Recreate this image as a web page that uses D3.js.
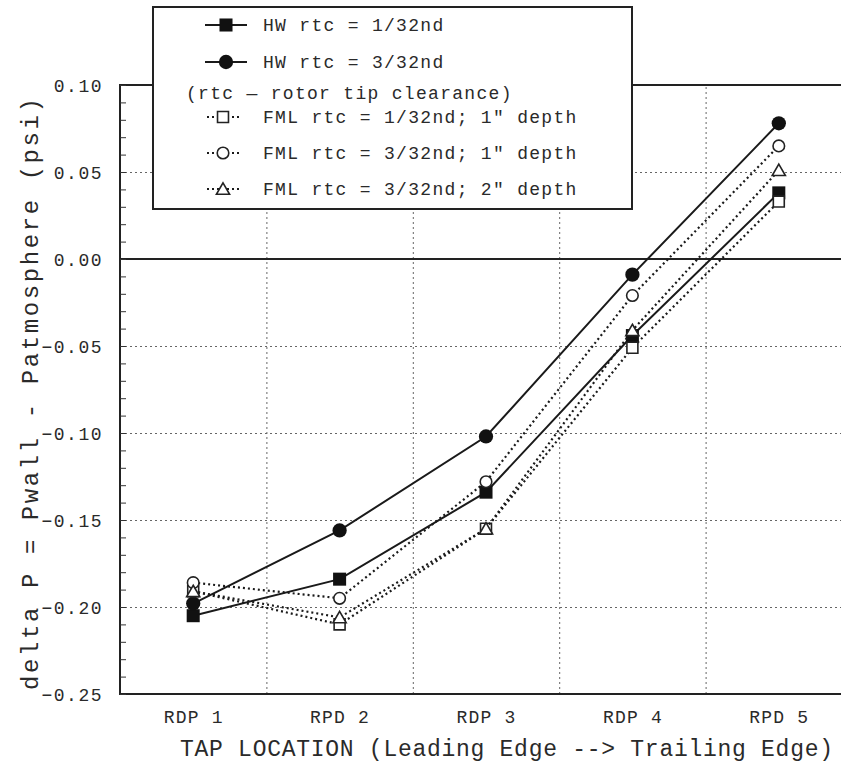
<!DOCTYPE html>
<html>
<head>
<meta charset="utf-8">
<script src="https://cdnjs.cloudflare.com/ajax/libs/d3/7.8.5/d3.min.js"></script>
<style>
  body { margin: 0; background: #fff; }
  svg { display: block; }
  text { font-family: "Liberation Mono", "Courier New", monospace; fill: #2a2a2a; }
  .grid line { stroke: #666; stroke-width: 1; stroke-dasharray: 2,3; }
  .grid path { display: none; }
</style>
</head>
<body>
<svg width="841" height="763"></svg>
<script>
var locations = ["RDP 1", "RPD 2", "RDP 3", "RDP 4", "RPD 5"];

var hw1 = [-0.205, -0.184, -0.134, -0.044, 0.038];
var hw3 = [-0.198, -0.156, -0.102, -0.009, 0.078];
var fml1 = [-0.191, -0.210, -0.155, -0.051, 0.033];
var fml3 = [-0.186, -0.195, -0.128, -0.021, 0.065];
var fml3d2 = [-0.191, -0.206, -0.155, -0.041, 0.051];

var yTicks = [-0.25, -0.20, -0.15, -0.10, -0.05, 0.00, 0.05, 0.10];

var series = [
    {name: "HW rtc = 1/32nd", values: hw1, symbol: "square", filled: true, dotted: false},
    {name: "HW rtc = 3/32nd", values: hw3, symbol: "circle", filled: true, dotted: false},
    {name: "FML rtc = 1/32nd; 1\" depth", values: fml1, symbol: "square", filled: false, dotted: true},
    {name: "FML rtc = 3/32nd; 1\" depth", values: fml3, symbol: "circle", filled: false, dotted: true},
    {name: "FML rtc = 3/32nd; 2\" depth", values: fml3d2, symbol: "triangle", filled: false, dotted: true}
];

var svg = d3.select("svg"),
    plotL = 120, plotR = 852, plotT = 85, plotB = 694;

var x = d3.scaleLinear().domain([0.5, 5.5]).range([plotL, plotR]),
    y = d3.scaleLinear().domain([-0.25, 0.10]).range([plotB, plotT]);

var line = d3.line()
    .x(function(d, i) { return x(i + 1); })
    .y(function(d) { return y(d); });

// gridlines
svg.append("g")
    .attr("class", "grid")
    .attr("transform", "translate(0," + plotB + ")")
    .call(d3.axisBottom(x).tickValues([1.5, 2.5, 3.5, 4.5]).tickSize(-(plotB - plotT)).tickFormat(""));

svg.append("g")
    .attr("class", "grid")
    .attr("transform", "translate(" + plotL + ",0)")
    .call(d3.axisLeft(y).tickValues([-0.20, -0.15, -0.10, -0.05, 0.05]).tickSize(-(plotR - plotL)).tickFormat(""));

// frame + zero line
svg.append("path")
    .attr("d", "M" + plotR + "," + plotT + "H" + plotL + "V" + plotB + "H" + plotR)
    .attr("fill", "none")
    .attr("stroke", "#222")
    .attr("stroke-width", 2);

svg.append("line")
    .attr("x1", plotL).attr("x2", plotR)
    .attr("y1", y(0)).attr("y2", y(0))
    .attr("stroke", "#222")
    .attr("stroke-width", 2);

// minor ticks on the left axis (inside)
var minor = d3.range(-25, 11).map(function(d) { return d / 100; });
svg.append("g")
    .attr("transform", "translate(" + plotL + ",0)")
    .call(d3.axisRight(y).tickValues(minor).tickSize(6).tickFormat(""))
    .call(function(g) { g.select(".domain").remove(); })
    .selectAll(".tick line")
    .attr("stroke", "#333");

// y tick labels
var yAxis = svg.append("g")
    .attr("transform", "translate(" + plotL + ",0)")
    .call(d3.axisLeft(y).tickValues(yTicks).tickSize(0).tickPadding(17).tickFormat(d3.format(".2f")));
yAxis.select(".domain").remove();
yAxis.selectAll("text")
    .style("font-size", "18px")
    .style("letter-spacing", "1.5px")
    .attr("dy", "0.35em");

// x tick labels
var xAxis = svg.append("g")
    .attr("transform", "translate(0," + plotB + ")")
    .call(d3.axisBottom(x).tickValues([1, 2, 3, 4, 5]).tickSize(0).tickPadding(16)
        .tickFormat(function(d) { return locations[d - 1]; }));
xAxis.select(".domain").remove();
xAxis.selectAll("text")
    .style("font-size", "18px")
    .style("letter-spacing", "1.2px");

// axis titles
svg.append("text")
    .attr("x", 180)
    .attr("y", 756)
    .attr("textLength", 653)
    .attr("lengthAdjust", "spacing")
    .style("font-size", "23px")
    .text("TAP LOCATION (Leading Edge --> Trailing Edge)");

svg.append("text")
    .attr("transform", "translate(38,690) rotate(-90)")
    .attr("textLength", 592)
    .attr("lengthAdjust", "spacing")
    .style("font-size", "24px")
    .text("delta P = Pwall - Patmosphere  (psi)");

// symbols
function symbolPath(s, size) {
    var type = s.symbol == "square" ? d3.symbolSquare : (s.symbol == "circle" ? d3.symbolCircle : d3.symbolTriangle);
    return d3.symbol().type(type).size(size)();
}
function symbolSize(s) {
    if (s.filled) return s.symbol == "square" ? 170 : 160;
    return s.symbol == "triangle" ? 75 : (s.symbol == "square" ? 120 : 105);
}

var person = svg.selectAll(".series")
    .data(series)
    .enter().append("g")
    .attr("class", "series");

person.append("path")
    .attr("d", function(d) { return line(d.values); })
    .attr("fill", "none")
    .attr("stroke", "#1a1a1a")
    .attr("stroke-width", function(d) { return d.dotted ? 2.2 : 2; })
    .attr("stroke-dasharray", function(d) { return d.dotted ? "2,3" : null; });

person.selectAll(".pt")
    .data(function(d) { return d.values.map(function(v, i) { return {s: d, v: v, i: i}; }); })
    .enter().append("path")
    .attr("class", "pt")
    .attr("transform", function(d) {
        var dy = d.s.symbol == "triangle" ? 1.5 : 0;
        return "translate(" + x(d.i + 1) + "," + (y(d.v) + dy) + ")";
    })
    .attr("d", function(d) { return symbolPath(d.s, symbolSize(d.s)); })
    .attr("fill", function(d) { return d.s.filled ? "#111" : "#fff"; })
    .attr("stroke", "#222")
    .attr("stroke-width", function(d) { return d.s.filled ? 0 : 1.6; });

// legend
var legend = svg.append("g");
legend.append("rect")
    .attr("x", 153).attr("y", 7)
    .attr("width", 479).attr("height", 202)
    .attr("fill", "#fff")
    .attr("stroke", "#222")
    .attr("stroke-width", 2);

var rowY = [25, 62, 117, 153, 189];
series.forEach(function(s, i) {
    var ly = rowY[i];
    legend.append("line")
        .attr("x1", s.dotted ? 207 : 205).attr("x2", s.dotted ? 240 : 247)
        .attr("y1", ly).attr("y2", ly)
        .attr("stroke", "#1a1a1a")
        .attr("stroke-width", 2)
        .attr("stroke-dasharray", s.dotted ? "2,3" : null);
    legend.append("path")
        .attr("transform", "translate(" + (s.dotted ? 223 : 226) + "," + (ly + (s.symbol == "triangle" ? 1.5 : 0)) + ")")
        .attr("d", symbolPath(s, symbolSize(s)))
        .attr("fill", s.filled ? "#111" : "#fff")
        .attr("stroke", "#222")
        .attr("stroke-width", s.filled ? 0 : 1.6);
    legend.append("text")
        .attr("x", 263)
        .attr("y", ly)
        .attr("dy", "0.35em")
        .style("font-size", "18px")
        .style("letter-spacing", "1.3px")
        .text(s.name);
});

legend.append("text")
    .attr("x", 186)
    .attr("y", 93)
    .attr("dy", "0.35em")
    .style("font-size", "18px")
    .style("letter-spacing", "1.3px")
    .text("(rtc \u2014 rotor tip clearance)");
</script>
</body>
</html>
